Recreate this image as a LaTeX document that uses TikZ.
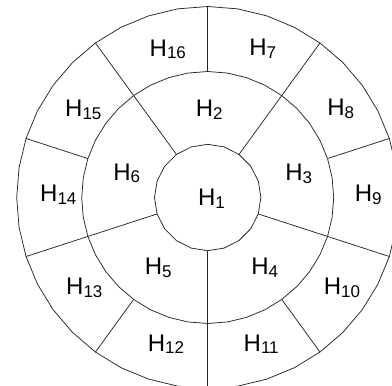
\documentclass[tikz,border=0pt]{standalone}
\usepackage{fontspec}
\setmainfont{Liberation Sans}
\newcommand{\hlab}[1]{H\raisebox{-2.7pt}{\fontsize{17}{17}\selectfont #1}}
\begin{document}
\begin{tikzpicture}[x=1pt,y=-1pt,
  ring/.style={line width=0.75pt,black!85},
  lab/.style={inner sep=0pt,font=\fontsize{24}{24}\selectfont}]
\useasboundingbox (0,0) rectangle (392,386);
\clip (0,0) rectangle (392,386);
\def\cx{207.7}\def\cy{197.5}
\def\ri{53.2}\def\rm{126}\def\ro{191}
% rings
\draw[ring] plot[samples=21,domain=0:360] ({\cx+\ri*cos(\x)},{\cy-\ri*sin(\x)}) -- cycle;
\draw[ring] plot[samples=41,domain=0:360] ({\cx+\rm*cos(\x)},{\cy-\rm*sin(\x)}) -- cycle;
\draw[ring] plot[samples=41,domain=0:360] ({\cx+\ro*cos(\x)},{\cy-\ro*sin(\x)}) -- cycle;
% spokes through both rings
\foreach \a in {54,126,198,270,342}
  \draw[ring] ({\cx+\ri*cos(\a)},{\cy-\ri*sin(\a)}) -- ({\cx+\ro*cos(\a)},{\cy-\ro*sin(\a)});
% spokes in outer ring
\foreach \a in {18,90,162,234,306}
  \draw[ring] ({\cx+\rm*cos(\a)},{\cy-\rm*sin(\a)}) -- ({\cx+\ro*cos(\a)},{\cy-\ro*sin(\a)});
% labels
\node[lab] (h1) at (211.5,198.8) {\hlab{1}};
\node[lab] (h2) at (209.3,110) {\hlab{2}};
\node[lab] (h3) at (298.7,173.8) {\hlab{3}};
\node[lab] (h4) at (264.7,268) {\hlab{4}};
\node[lab] (h5) at (158.3,268) {\hlab{5}};
\node[lab] (h6) at (126.7,173.3) {\hlab{6}};
\node[lab] (h7) at (262.7,49) {\hlab{7}};
\node[lab] (h8) at (340.8,109) {\hlab{8}};
\node[lab] (h9) at (368.3,194.7) {\hlab{9}};
\node[lab] (h10) at (342,287.7) {\hlab{10}};
\node[lab] (h11) at (261.2,344.3) {\hlab{11}};
\node[lab] (h12) at (166,344.3) {\hlab{12}};
\node[lab] (h13) at (84.3,287.7) {\hlab{13}};
\node[lab] (h14) at (58.3,194.7) {\hlab{14}};
\node[lab] (h15) at (83.3,109.7) {\hlab{15}};
\node[lab] (h16) at (167.8,49.3) {\hlab{16}};
\end{tikzpicture}
\end{document}
